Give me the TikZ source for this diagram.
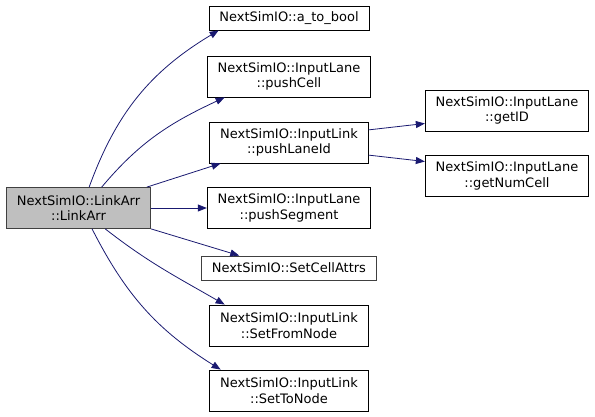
\documentclass[tikz,border=0pt]{standalone}
\usepackage{fontspec}
\setmainfont{DejaVu Sans}
\usetikzlibrary{arrows.meta,positioning}
\definecolor{edgeblue}{HTML}{191970}
\definecolor{rootgray}{HTML}{BFBFBF}
\definecolor{framegray}{HTML}{404040}
\tikzset{
  cgarr/.style={-{Triangle[length=9pt,width=7pt]}, line width=0.8pt, draw=edgeblue},
  cgnode/.style={draw, fill=white, align=center, inner xsep=10.5pt, inner ysep=0pt, line width=0.8pt},
}

\begin{document}
\begin{tikzpicture}[
  x=1pt, y=1pt,
  font=\fontsize{13}{15.5}\selectfont,
  fn/.style={cgnode, minimum height=41pt},
  fnone/.style={cgnode, minimum height=24pt},
  root/.style={fn, fill=rootgray, draw=framegray},
]
  \useasboundingbox (0,0) rectangle (595,-417);

  \node[root] (linkarr) at (78.5,-208) {NextSimIO::LinkArr\\::LinkArr};

  \node[fnone] (atobool)      at (289,-18)    {NextSimIO::a\_to\_bool};
  \node[fn]    (pushcell)     at (289,-76.5)  {NextSimIO::InputLane\\::pushCell};
  \node[fn]    (pushlaneid)   at (289,-142.5) {NextSimIO::InputLink\\::pushLaneId};
  \node[fn]    (pushsegment)  at (289,-208)   {NextSimIO::InputLane\\::pushSegment};
  \node[fnone, draw=framegray] (setcellattrs) at (289,-268) {NextSimIO::SetCellAttrs};
  \node[fn]    (setfromnode)  at (289,-325.5) {NextSimIO::InputLink\\::SetFromNode};
  \node[fn]    (settonode)    at (289,-390.5) {NextSimIO::InputLink\\::SetToNode};

  \node[fn] (getid)      at (507,-110.5) {NextSimIO::InputLane\\::getID};
  \node[fn] (getnumcell) at (507,-176)   {NextSimIO::InputLane\\::getNumCell};

  \draw[cgarr] (linkarr.63) to[out=70,in=211] (atobool.190);
  \draw[cgarr] (linkarr.42) to[out=50,in=205] (pushcell.198);
  \draw[cgarr] (linkarr.17) -- (pushlaneid.197);
  \draw[cgarr] (linkarr) -- (pushsegment);
  \draw[cgarr] (linkarr.south east) -- (setcellattrs.166);
  \draw[cgarr] (linkarr.-38) to[out=-38,in=150] (setfromnode.162);
  \draw[cgarr] (linkarr.-57) to[out=-63,in=148] (settonode.163);

  \draw[cgarr] (pushlaneid.9) -- (getid.189);
  \draw[cgarr] (pushlaneid.-9) -- (getnumcell.170);
\end{tikzpicture}
\end{document}
